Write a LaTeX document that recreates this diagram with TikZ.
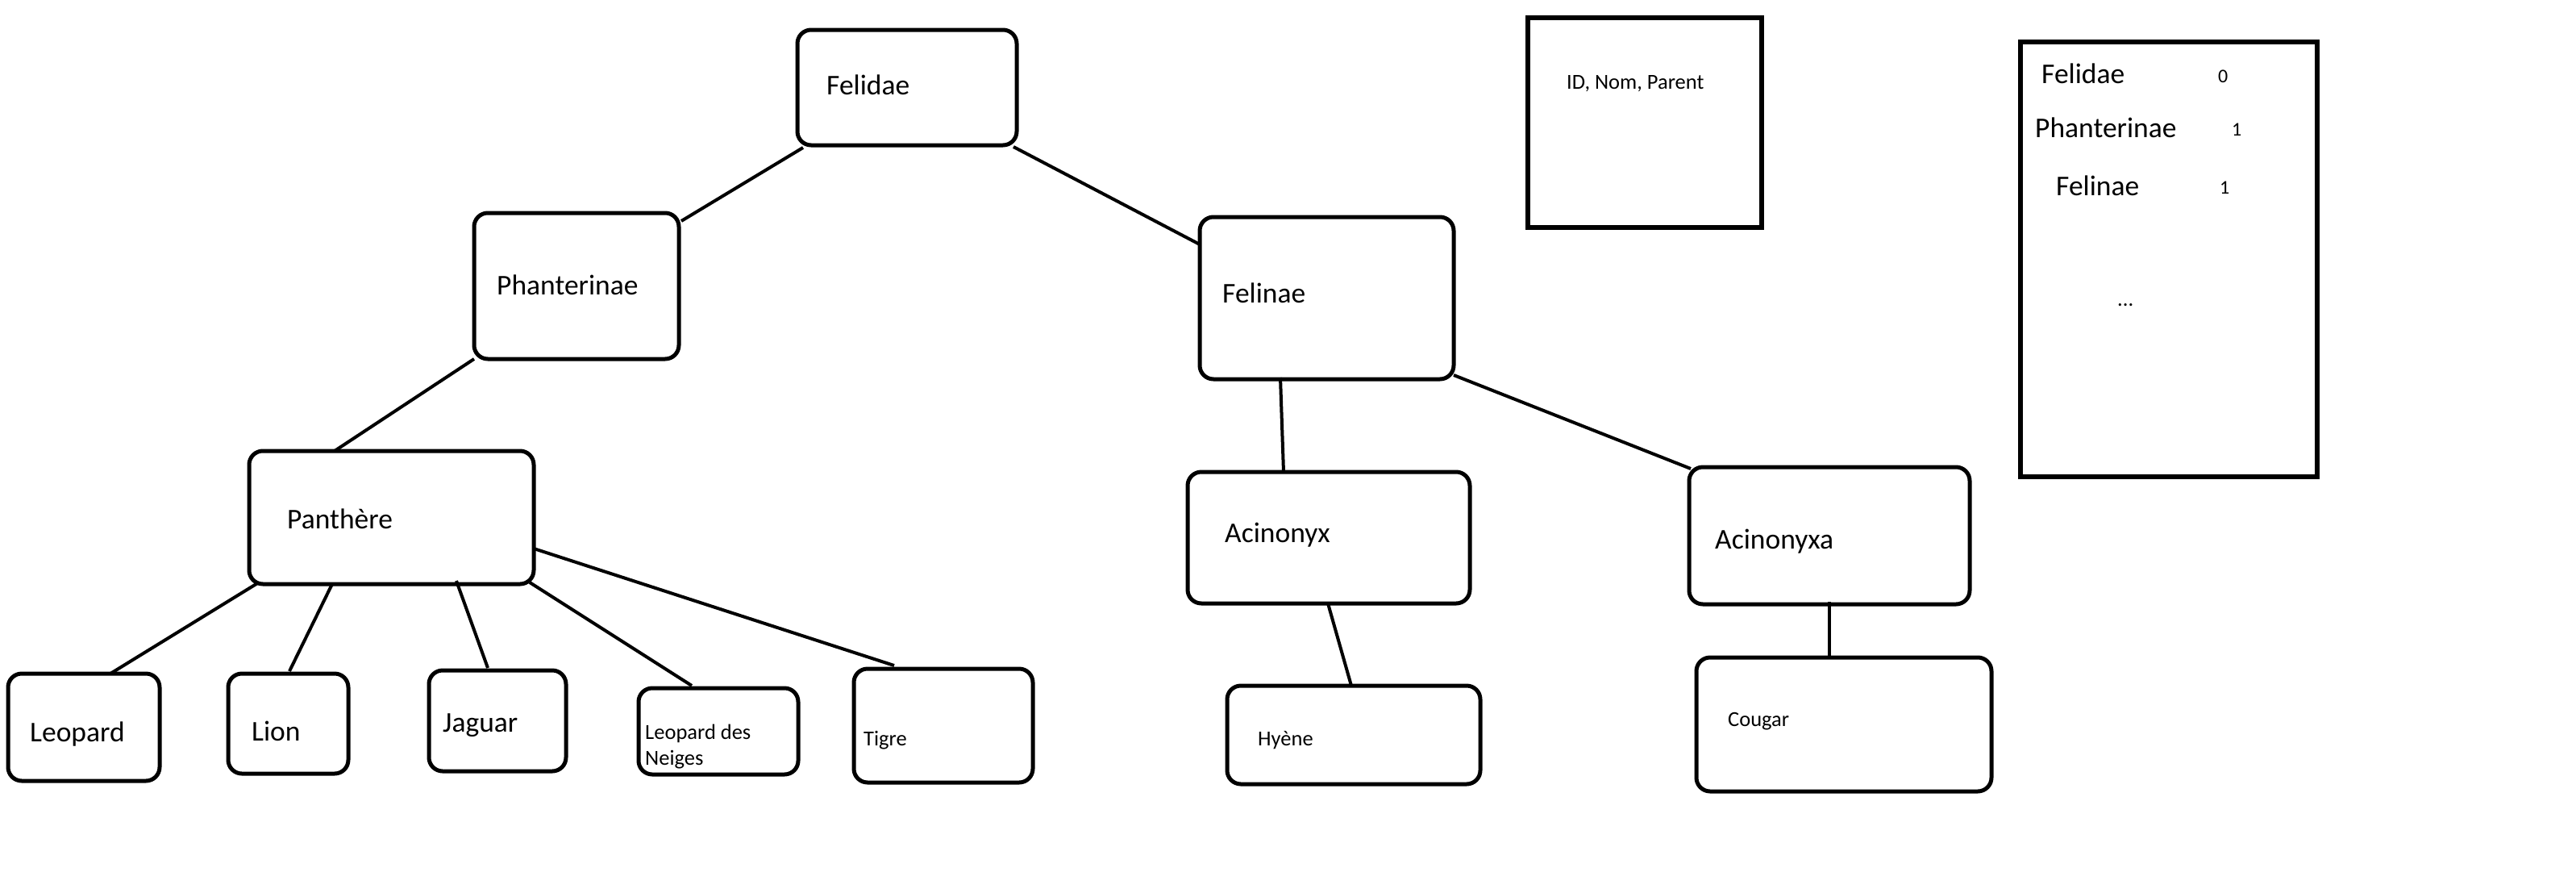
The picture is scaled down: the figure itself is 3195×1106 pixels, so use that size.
\documentclass[tikz,border=0pt]{standalone}
\usepackage{fontspec}
\setmainfont{Carlito}
\begin{document}
\begin{tikzpicture}[x=1pt,y=-1pt,
  box/.style={draw=black,line width=5pt,rounded corners=17pt,inner sep=0pt,outer sep=0pt,anchor=north west},
  sqbox/.style={draw=black,line width=6pt,inner sep=0pt,outer sep=0pt,anchor=north west},
  big/.style={inner sep=0pt,anchor=base west,font=\fontsize{35.5}{40}\selectfont},
  small/.style={inner sep=0pt,anchor=base west,font=\fontsize{26.5}{32}\selectfont},
  digit/.style={inner sep=0pt,anchor=base west,font=\fontsize{24}{28}\selectfont},
  link/.style={draw=black,line width=4pt}]
\useasboundingbox (0,0) rectangle (3195,1106);
\fill[white] (0,0) rectangle (3195,1106);
% boxes
\node[box,minimum width=272pt,minimum height=143pt] (felidae) at (989,37) {};
\node[box,minimum width=254pt,minimum height=181pt] (phant) at (588,264) {};
\node[box,minimum width=315pt,minimum height=201pt] (felinae) at (1488,269) {};
\node[sqbox,minimum width=290pt,minimum height=260pt] (idbox) at (1895,22) {};
\node[sqbox,minimum width=368pt,minimum height=539pt] (listbox) at (2506,52) {};
\node[box,minimum width=353pt,minimum height=165pt] (panthere) at (309,559) {};
\node[box,minimum width=350pt,minimum height=163pt] (acinonyx) at (1473,585) {};
\node[box,minimum width=348pt,minimum height=170pt] (acinonyxa) at (2095,579) {};
\node[box,minimum width=188pt,minimum height=133pt] (leopard) at (10,835) {};
\node[box,minimum width=149pt,minimum height=124pt] (lion) at (283,835) {};
\node[box,minimum width=170pt,minimum height=125pt] (jaguar) at (532,831) {};
\node[box,minimum width=198pt,minimum height=107pt] (ldn) at (792,853) {};
\node[box,minimum width=222pt,minimum height=141pt] (tigre) at (1059,829) {};
\node[box,minimum width=314pt,minimum height=122pt] (hyene) at (1522,850) {};
\node[box,minimum width=366pt,minimum height=166pt] (cougar) at (2104,815) {};
% texts
\node[big] (tfelidae) at (1025,117) {Felidae};
\node[big] (tphant) at (616,365) {Phanterinae};
\node[big] (tfelinae) at (1516,375) {Felinae};
\node[big] (tpanthere) at (356,655) {Panthère};
\node[big] (tacinonyx) at (1519,672) {Acinonyx};
\node[big] (tacinonyxa) at (2127,680) {Acinonyxa};
\node[big] (tleopard) at (37,919) {Leopard};
\node[big] (tlion) at (312,918) {Lion};
\node[big] (tjaguar) at (549,907) {Jaguar};
\node[small] (tldna) at (800,916) {Leopard des};
\node[small] (tldnb) at (800,948) {Neiges};
\node[small] (ttigre) at (1071,924) {Tigre};
\node[small] (thyene) at (1560,924) {Hyène};
\node[small] (tcougar) at (2143,900) {Cougar};
\node[small] (tid) at (1943,110) {ID, Nom, Parent};
\node[big] (lfelidae) at (2532,103) {Felidae};
\node[digit] (lzero) at (2751,102) {0};
\node[big] (lphant) at (2524,170) {Phanterinae};
\node[digit] (lone) at (2768,168) {1};
\node[big] (lfelinae) at (2550,242) {Felinae};
\node[digit] (ltwo) at (2753,240) {1};
\node[small] (ldots) at (2626,379) {...};
% connectors
\draw[link] ([shift={(7,146)}]felidae.north west) -- ([shift={(257,10)}]phant.north west);
\draw[link] (phant.south west) -- ([shift={(106,0)}]panthere.north west);
\draw[link] ([shift={(268,145)}]felidae.north west) -- ([shift={(0,34)}]felinae.north west);
\draw[link] ([shift={(100,199)}]felinae.north west) -- ([shift={(119,0)}]acinonyx.north west);
\draw[link] ([shift={(315,196)}]felinae.north west) -- ([shift={(2,2)}]acinonyxa.north west);
\draw[link] ([shift={(174,163)}]acinonyx.north west) -- ([shift={(154,0)}]hyene.north west);
\draw[link] ([shift={(174,167)}]acinonyxa.north west) -- ([shift={(165,0)}]cougar.north west);
\draw[link] ([shift={(12,163)}]panthere.north west) -- ([shift={(127,0)}]leopard.north west);
\draw[link] ([shift={(103,165)}]panthere.north west) -- ([shift={(76,-3)}]lion.north west);
\draw[link] ([shift={(257,161)}]panthere.north west) -- ([shift={(73,-3)}]jaguar.north west);
\draw[link] ([shift={(348,163)}]panthere.north west) -- ([shift={(66,-3)}]ldn.north west);
\draw[link] ([shift={(353,121)}]panthere.north west) -- ([shift={(50,-4)}]tigre.north west);
\end{tikzpicture}
\end{document}
